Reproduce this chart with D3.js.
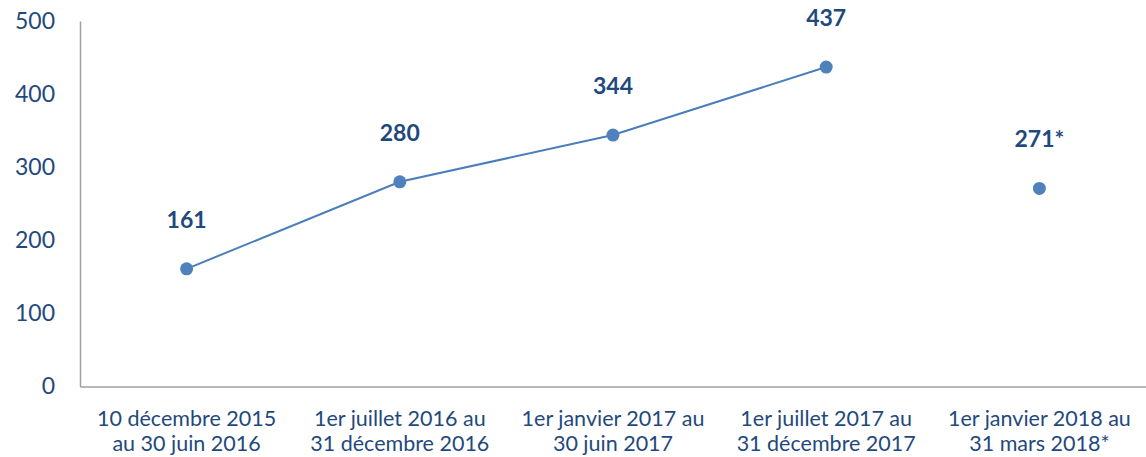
<!DOCTYPE html>
<html>
<head>
<meta charset="utf-8">
<script src="https://cdn.jsdelivr.net/npm/d3@7"></script>
<style>
  body { margin: 0; background: #fff; }
  svg { font-family: Lato, "Open Sans", sans-serif; }
</style>
</head>
<body>
<svg id="chart" width="1146" height="457"></svg>
<script>
// categories (two lines each) and values
const categories = [
  ["10 décembre 2015", "au 30 juin 2016"],
  ["1er juillet 2016 au", "31 décembre 2016"],
  ["1er janvier 2017 au", "30 juin 2017"],
  ["1er juillet 2017 au", "31 décembre 2017"],
  ["1er janvier 2018 au", "31 mars 2018*"]
];
const values = [161, 280, 344, 437, 271];
const valueLabels = ["161", "280", "344", "437", "271*"];
const connected = [true, true, true, true, false]; // last point is not joined
const yTicks = [0, 100, 200, 300, 400, 500];

var margin = {top: 21, right: 0, bottom: 70, left: 80},
    width = 1146 - margin.left - margin.right,
    height = 386.5 - margin.top;

var svg = d3.select("#chart")
  .append("g")
  .attr("transform", "translate(" + margin.left + "," + margin.top + ")");

var x = d3.scaleBand()
  .domain(d3.range(categories.length))
  .range([0, width]);

var y = d3.scaleLinear()
  .domain([0, 500])
  .range([height, 0]);

// y axis
var yAxis = svg.append("g")
  .call(d3.axisLeft(y).tickValues(yTicks).tickSize(0).tickPadding(25));
yAxis.select(".domain").attr("stroke", "#a0a0a0").attr("stroke-width", 1.5);
yAxis.selectAll("text")
  .attr("fill", "#1F497D")
  .style("font-size", "23px")
  .attr("font-family", "Lato, sans-serif");

// x axis
var xAxis = svg.append("g")
  .attr("transform", "translate(0," + height + ")")
  .call(d3.axisBottom(x).tickSize(0).tickFormat(""));
xAxis.select(".domain").attr("stroke", "#a0a0a0").attr("stroke-width", 1.5);

// category labels on two lines
var catText = svg.append("g").selectAll("text")
  .data(categories)
  .enter()
  .append("text")
  .attr("x", (d, i) => x(i) + x.bandwidth() / 2)
  .attr("y", height + 39)
  .attr("text-anchor", "middle")
  .attr("fill", "#1F497D")
  .style("font-size", "21.5px");
catText.selectAll("tspan")
  .data(d => d)
  .enter()
  .append("tspan")
  .attr("x", function () { return d3.select(this.parentNode).attr("x"); })
  .attr("dy", (d, i) => i === 0 ? 0 : 25)
  .text(d => d);

var points = values.map((v, i) => ({i: i, v: v, label: valueLabels[i], joined: connected[i]}));

// line through the joined points
var line = d3.line()
  .x(d => x(d.i) + x.bandwidth() / 2)
  .y(d => y(d.v));

svg.append("path")
  .datum(points.filter(d => d.joined))
  .attr("fill", "none")
  .attr("stroke", "#4A7EBB")
  .attr("stroke-width", 2)
  .attr("d", line);

// markers
svg.selectAll("circle")
  .data(points)
  .enter()
  .append("circle")
  .attr("cx", d => x(d.i) + x.bandwidth() / 2)
  .attr("cy", d => y(d.v))
  .attr("r", 6.5)
  .attr("fill", "#4F81BD");

// value labels
svg.selectAll(".vlabel")
  .data(points)
  .enter()
  .append("text")
  .attr("class", "vlabel")
  .attr("x", d => x(d.i) + x.bandwidth() / 2)
  .attr("y", d => y(d.v) - 41)
  .attr("text-anchor", "middle")
  .attr("fill", "#1F497D")
  .style("font-size", "23px")
  .style("font-weight", "bold")
  .text(d => d.label);
</script>
</body>
</html>
